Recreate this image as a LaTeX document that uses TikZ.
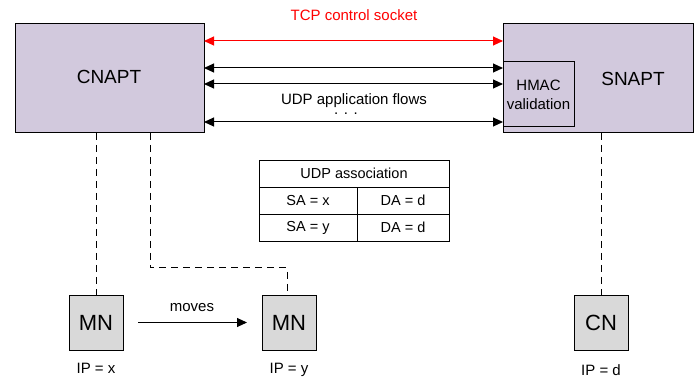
\documentclass[tikz,border=0pt]{standalone}
\usepackage{fontspec}
\setmainfont{Liberation Sans}
\usetikzlibrary{arrows.meta}
\definecolor{aptfill}{HTML}{D2C9DD}
\definecolor{hostfill}{HTML}{D9D9D9}
\definecolor{tcpred}{HTML}{FF0000}
\tikzset{
  apt/.style={draw, line width=1pt, fill=aptfill, inner sep=0pt, outer sep=0pt},
  host/.style={draw, line width=1pt, fill=hostfill, inner sep=0pt, outer sep=0pt,
    minimum width=54pt, minimum height=55pt, font=\fontsize{22}{24}\selectfont},
  cell/.style={draw, line width=0.8pt, inner sep=0pt, outer sep=0pt, minimum height=27pt,
    font=\fontsize{14.5}{17}\selectfont},
  lbl/.style={inner sep=0pt, anchor=base, font=\fontsize{15}{18}\selectfont},
  flow/.style={line width=1pt, {Triangle[length=10pt,width=9pt]}-{Triangle[length=10pt,width=9pt]}},
  link/.style={line width=1pt, dash pattern=on 7pt off 5pt},
}
\begin{document}
\begin{tikzpicture}[x=1pt, y=-1pt]
\useasboundingbox (0,0) rectangle (697,377);

% address translators
\node[apt, minimum width=189pt, minimum height=109pt] (cnapt) at (109.5,78.5) {};
\node[lbl, font=\fontsize{19}{22}\selectfont] (cnaptlbl) at (109,84) {CNAPT};
\node[apt, minimum width=190pt, minimum height=109pt] (snapt) at (598,78.5) {};
\node[lbl, font=\fontsize{19}{22}\selectfont] (snaptlbl) at (633,85.5) {SNAPT};
\node[apt, minimum width=71pt, minimum height=65pt] (hmac) at (538.5,94.5) {};
\node[lbl] (hmac1) at (538.5,90.5) {HMAC};
\node[lbl] (hmac2) at (538.5,110) {validation};

% control and data flows between the two
\coordinate (ytcp) at (0,41);
\coordinate (yf1) at (0,68);
\coordinate (yf2) at (0,84);
\coordinate (yf3) at (0,122);
\draw[flow, tcpred] (cnapt.east |- ytcp) -- (snapt.west |- ytcp);
\draw[flow] (cnapt.east |- yf1) -- (snapt.west |- yf1);
\draw[flow] (cnapt.east |- yf2) -- (snapt.west |- yf2);
\draw[flow] (cnapt.east |- yf3) -- (snapt.west |- yf3);
\node[lbl, text=tcpred] (tcplbl) at (354,21) {TCP control socket};
\node[lbl] (udplbl) at (354,105) {UDP application flows};
\node[lbl, text height=2pt, text depth=0pt] (dots) at (346,114.5) {. . .};

% association table
\node[cell, minimum width=190pt] (thead) at (354,173.5) {UDP association};
\node[cell, minimum width=98pt] (sa1) at (308,200.5) {SA = x};
\node[cell, minimum width=92pt] (da1) at (403,200.5) {DA = d};
\node[cell, minimum width=98pt] (sa2) at (308,227.5) {SA = y};
\node[cell, minimum width=92pt] (da2) at (403,227.5) {DA = d};

% hosts
\node[host] (mn1) at (96,322.5) {MN};
\node[host] (mn2) at (289,322.5) {MN};
\node[host] (cn) at (601,322.5) {CN};
\node[lbl] (ipx) at (96,373) {IP = x};
\node[lbl] (ipy) at (289,373) {IP = y};
\node[lbl] (ipd) at (601,375) {IP = d};

% attachments
\coordinate (bend) at (150,268);
\draw[link] (mn1.north |- cnapt.south) -- (mn1.north);
\draw[link] (bend |- cnapt.south) -- (bend) -| ([xshift=-2pt]mn2.north);
\draw[link] (cn.north |- snapt.south) -- (cn.north);

% movement of the mobile node
\draw[line width=1pt, -{Triangle[length=10pt,width=9pt]}] ([xshift=15pt]mn1.east) -- ([xshift=-15pt]mn2.west);
\node[lbl] (moveslbl) at (192,311.5) {moves};
\end{tikzpicture}
\end{document}
